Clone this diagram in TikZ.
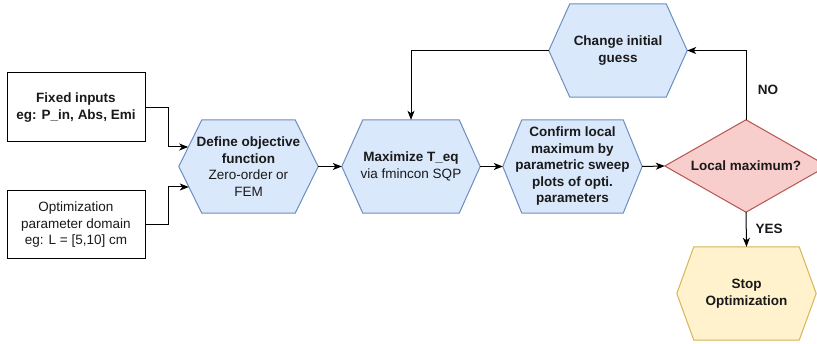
\documentclass[tikz,border=0pt]{standalone}
\usepackage{fontspec}
\setmainfont{Liberation Sans}
\usetikzlibrary{arrows.meta,calc,backgrounds}
\definecolor{bluefill}{HTML}{DAE8FC}
\definecolor{bluedraw}{HTML}{6C8EBF}
\definecolor{redfill}{HTML}{F8CECC}
\definecolor{reddraw}{HTML}{B85450}
\definecolor{yelfill}{HTML}{FFF2CC}
\definecolor{yeldraw}{HTML}{D6B656}
\definecolor{txt}{HTML}{1A1A1A}
\newcommand\hexdraw[4]{%
  \begin{scope}[on background layer]
    \filldraw[fill=#3, draw=#4, line width=1pt, line join=round]
      (#1.west) -- ([xshift=#2]#1.north west) -- ([xshift=-#2]#1.north east)
      -- (#1.east) -- ([xshift=-#2]#1.south east) -- ([xshift=#2]#1.south west) -- cycle;
  \end{scope}}
\tikzset{
  lbl/.style={inner sep=0pt, align=center, text=txt, font=\fontsize{13.5}{16.5}\selectfont},
  inbox/.style={lbl, draw=black, line width=1pt, fill=white, minimum width=138pt},
  hexbox/.style={lbl, minimum width=139pt, minimum height=93pt},
  arr/.style={draw=black, line width=1pt, -{Stealth[length=9pt,width=7pt,inset=2.5pt]}},
}
\begin{document}
\begin{tikzpicture}[x=1pt,y=-1pt]
\useasboundingbox (0,0) rectangle (817,344);
\begin{scope}[on background layer]
\fill[white] (0,0) rectangle (817,344);
\end{scope}

\node[inbox, minimum height=69pt] (fi) at (76,107.5) {\bfseries Fixed inputs\\\bfseries eg: P\_in, Abs, Emi};
\node[inbox, minimum height=68pt] (opd) at (76,225) {Optimization\\parameter domain\\eg: L = [5,10] cm};

\node[hexbox] (def) at (248.5,166.5) {\bfseries Define objective\\\bfseries function\\Zero-order or\\FEM};
\hexdraw{def}{23}{bluefill}{bluedraw}
\node[hexbox, minimum width=138pt] (max) at (411,166.5) {\bfseries Maximize T\_eq\\via fmincon SQP};
\hexdraw{max}{21}{bluefill}{bluedraw}
\node[hexbox] (conf) at (572.5,166.5) {\bfseries Confirm local\\\bfseries maximum by\\\bfseries parametric sweep\\\bfseries plots of opti.\\\bfseries parameters};
\hexdraw{conf}{19}{bluefill}{bluedraw}
\node[hexbox, minimum width=138pt] (chg) at (618,50.5) {\bfseries Change initial\\\bfseries guess};
\hexdraw{chg}{21}{bluefill}{bluedraw}
\node[hexbox] (stop) at (746.5,293.5) {\bfseries Stop\\\bfseries Optimization};
\hexdraw{stop}{17}{yelfill}{yeldraw}

\node[lbl, minimum width=162pt, minimum height=92pt] (dia) at (746,166) {\bfseries Local maximum?};
\begin{scope}[on background layer]
\filldraw[fill=redfill, draw=reddraw, line width=1pt, line join=round]
  (dia.west) -- (dia.north) -- (dia.east) -- (dia.south) -- cycle;
\end{scope}

\draw[arr] (fi.east) -- ++(23,0) |- ($(def.west)+(9.4,-19.5)$);
\draw[arr] (opd.east) -- ++(23,0) |- ($(def.west)+(10,20.5)$);
\draw[arr] (def.east) -- (max.west);
\draw[arr] (max.east) -- (conf.west);
\draw[arr] (conf.east) -- (dia.west);
\draw[arr] (dia.north) |- (chg.east);
\draw[arr] (chg.west) -| (max.north);
\draw[arr] (dia.south) -- (stop.north);

\node[lbl] (no) at (768,90) {\bfseries NO};
\node[lbl] (yes) at (769,229) {\bfseries YES};
\end{tikzpicture}
\end{document}
